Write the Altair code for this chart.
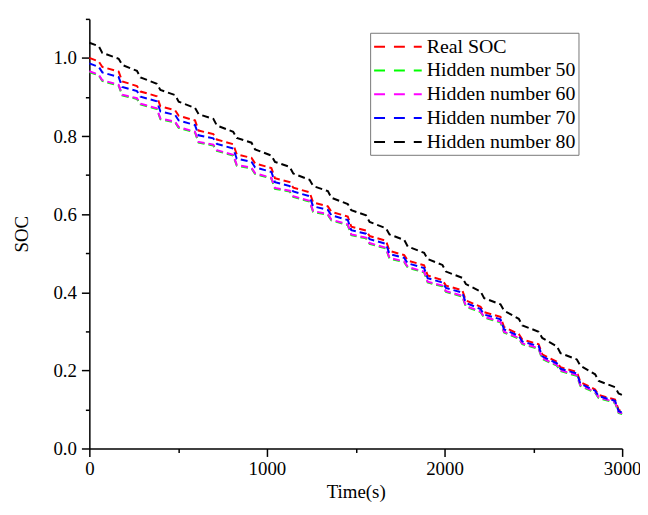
import altair as alt
import pandas as pd

# Time stamps (s) of the corner points
time_s = [0, 53, 73, 165, 185,
          268, 288, 380, 400,
          483, 503, 595, 615,
          698, 718, 810, 830,
          913, 933, 1025, 1045,
          1128, 1148, 1240, 1260,
          1343, 1363, 1455, 1475,
          1558, 1578, 1670, 1690,
          1773, 1793, 1885, 1905,
          1988, 2008, 2100, 2120,
          2203, 2223, 2315, 2335,
          2418, 2438, 2530, 2550,
          2633, 2653, 2745, 2765,
          2848, 2868, 2960, 2980,
          3000]

real_soc = [1.000, 0.991, 0.977, 0.965, 0.940,
            0.928, 0.914, 0.902, 0.876,
            0.866, 0.852, 0.840, 0.814,
            0.805, 0.791, 0.779, 0.753,
            0.744, 0.730, 0.718, 0.692,
            0.682, 0.668, 0.656, 0.630,
            0.620, 0.606, 0.594, 0.568,
            0.558, 0.544, 0.532, 0.506,
            0.495, 0.481, 0.469, 0.443,
            0.431, 0.417, 0.405, 0.379,
            0.363, 0.349, 0.337, 0.311,
            0.293, 0.279, 0.267, 0.241,
            0.222, 0.208, 0.196, 0.170,
            0.151, 0.137, 0.125, 0.099,
            0.095]

hidden_50 = [0.964, 0.955, 0.941, 0.929, 0.904,
             0.895, 0.881, 0.869, 0.843,
             0.835, 0.821, 0.809, 0.783,
             0.776, 0.762, 0.750, 0.724,
             0.717, 0.703, 0.691, 0.665,
             0.658, 0.644, 0.632, 0.606,
             0.598, 0.584, 0.572, 0.546,
             0.538, 0.524, 0.512, 0.486,
             0.477, 0.463, 0.451, 0.425,
             0.415, 0.401, 0.389, 0.363,
             0.349, 0.335, 0.323, 0.297,
             0.281, 0.267, 0.255, 0.229,
             0.212, 0.198, 0.186, 0.160,
             0.143, 0.129, 0.117, 0.091,
             0.088]

hidden_60 = [0.966, 0.957, 0.943, 0.931, 0.906,
             0.897, 0.883, 0.871, 0.845,
             0.837, 0.823, 0.811, 0.785,
             0.778, 0.764, 0.752, 0.726,
             0.719, 0.705, 0.693, 0.667,
             0.660, 0.646, 0.634, 0.608,
             0.600, 0.586, 0.574, 0.548,
             0.540, 0.526, 0.514, 0.488,
             0.479, 0.465, 0.453, 0.427,
             0.417, 0.403, 0.391, 0.365,
             0.351, 0.337, 0.325, 0.299,
             0.283, 0.269, 0.257, 0.231,
             0.214, 0.200, 0.188, 0.162,
             0.145, 0.131, 0.119, 0.093,
             0.090]

hidden_70 = [0.986, 0.977, 0.963, 0.951, 0.926,
             0.915, 0.901, 0.889, 0.863,
             0.854, 0.840, 0.828, 0.802,
             0.794, 0.780, 0.768, 0.742,
             0.734, 0.720, 0.708, 0.682,
             0.672, 0.658, 0.646, 0.620,
             0.611, 0.597, 0.585, 0.559,
             0.550, 0.536, 0.524, 0.498,
             0.488, 0.474, 0.462, 0.436,
             0.425, 0.411, 0.399, 0.373,
             0.357, 0.343, 0.331, 0.305,
             0.288, 0.274, 0.262, 0.236,
             0.218, 0.204, 0.192, 0.166,
             0.148, 0.134, 0.122, 0.096,
             0.092]

hidden_80 = [1.039, 1.030, 1.013, 0.998, 0.982,
             0.967, 0.950, 0.934, 0.918,
             0.905, 0.888, 0.872, 0.856,
             0.844, 0.827, 0.811, 0.795,
             0.783, 0.766, 0.750, 0.734,
             0.721, 0.704, 0.688, 0.672,
             0.659, 0.642, 0.626, 0.610,
             0.597, 0.580, 0.564, 0.548,
             0.534, 0.517, 0.501, 0.485,
             0.470, 0.453, 0.437, 0.421,
             0.402, 0.385, 0.369, 0.353,
             0.332, 0.315, 0.299, 0.283,
             0.261, 0.244, 0.228, 0.212,
             0.190, 0.173, 0.157, 0.141,
             0.137]

series_names = ["Real SOC", "Hidden number 50", "Hidden number 60",
                "Hidden number 70", "Hidden number 80"]
series_colors = ["#FF0000", "#00FF00", "#FF00FF", "#0000FF", "#000000"]
series_values = [real_soc, hidden_50, hidden_60, hidden_70, hidden_80]

x_ticks = [0, 500, 1000, 1500, 2000, 2500, 3000]
y_ticks = [0.0, 0.1, 0.2, 0.3, 0.4, 0.5, 0.6, 0.7, 0.8, 0.9, 1.0, 1.1]

rows = []
for name, vals in zip(series_names, series_values):
    for i, (t, v) in enumerate(zip(time_s, vals)):
        rows.append({"Time": t, "SOC": v, "Series": name, "idx": i})
df = pd.DataFrame(rows)

FONT = "Liberation Serif"

x_axis = alt.Axis(
    title="Time(s)", values=x_ticks,
    labelExpr="datum.value % 1000 === 0 ? format(datum.value, 'd') : ''",
    tickSize={"condition": {"test": "datum.value % 1000 === 0", "value": 8}, "value": 4},
    labelFont=FONT, labelFontSize=19, labelColor="black", labelPadding=3,
    labelFlush=False, labelOverlap=False,
    titleFont=FONT, titleFontSize=19, titleFontWeight="normal", titleColor="black",
    titlePadding=4,
    domainColor="black", domainWidth=1.5, tickColor="black", tickWidth=1.5,
    grid=False,
)
y_axis = alt.Axis(
    title="SOC", values=y_ticks,
    labelExpr="round(datum.value * 10) % 2 === 0 ? format(datum.value, '.1f') : ''",
    tickSize={"condition": {"test": "round(datum.value * 10) % 2 === 0", "value": 8}, "value": 4},
    labelFont=FONT, labelFontSize=19, labelColor="black", labelPadding=5,
    labelOverlap=False,
    titleFont=FONT, titleFontSize=19, titleFontWeight="normal", titleColor="black",
    titlePadding=22,
    domainColor="black", domainWidth=1.5, tickColor="black", tickWidth=1.5,
    grid=False,
)

chart = alt.Chart(df).mark_line(strokeWidth=2, strokeDash=[7, 4]).encode(
    x=alt.X("Time:Q", scale=alt.Scale(domain=[0, 3000], nice=False), axis=x_axis),
    y=alt.Y("SOC:Q", scale=alt.Scale(domain=[0, 1.1], nice=False), axis=y_axis),
    color=alt.Color(
        "Series:N",
        scale=alt.Scale(domain=series_names, range=series_colors),
        sort=series_names,
        legend=alt.Legend(
            title=None, orient="none", legendX=283, legendY=14,
            direction="vertical",
            fillColor="white", strokeColor="#777777", padding=3,
            symbolType="M-1,0H3.8", symbolSize=400, symbolStrokeWidth=2,
            symbolDash=[11, 9],
            labelFont=FONT, labelFontSize=20, labelColor="black",
            labelOffset=32, rowPadding=3,
        ),
    ),
    order="idx:Q",
).properties(
    width=537, height=433,
    autosize=alt.AutoSizeParams(type="none"),
    padding={"left": 82, "top": 9, "right": 18, "bottom": 57},
).configure_view(stroke=None)

chart.save("out.html", embed_options={"renderer": "svg", "actions": False})
